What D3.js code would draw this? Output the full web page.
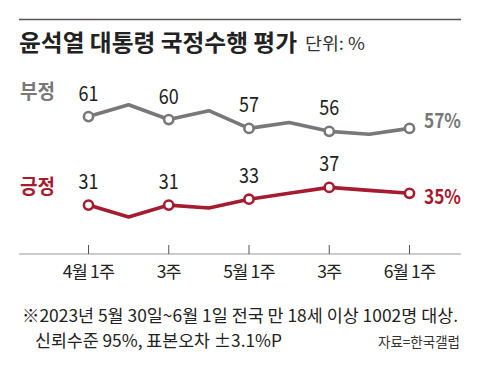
<!DOCTYPE html>
<html>
<head>
<meta charset="utf-8">
<script src="https://cdn.jsdelivr.net/npm/d3@7"></script>
<style>
  body { margin: 0; background: #fff; }
  svg text { font-family: "Noto Sans CJK KR", "Noto Sans", sans-serif; }
</style>
</head>
<body>
<div class="chart"></div>
<script>
// weekly survey, 4월 1주 ~ 6월 1주
var weeks = ["4월 1주", "4월 2주", "3주", "4월 4주", "5월 1주", "5월 2주", "3주", "5월 4주", "6월 1주"];
var tickWeeks = [0, 2, 4, 6, 8];
var negative = [61, 65, 60, 63, 57, 59, 56, 55, 57];
var positive = [31, 27, 31, 30, 33, 35, 37, 36, 35];
var labelWeeks = [0, 2, 4, 6];

var width = 480, height = 371;
var gray = "#787878", red = "#a51c30";

var svg = d3.select(".chart")
  .append("svg")
    .attr("width", width)
    .attr("height", height);

var x = d3.scaleLinear().domain([0, weeks.length - 1]).range([88.5, 409.5]);
var y = d3.scaleLinear().domain([25, 65]).range([222.8, 104.8]);

// top rule + title
svg.append("line")
  .attr("x1", 19).attr("x2", 461).attr("y1", 19.5).attr("y2", 19.5)
  .style("stroke", "#555").style("stroke-width", 1.5);

svg.append("text")
  .attr("x", 19).attr("y", 51)
  .attr("textLength", 278).attr("lengthAdjust", "spacingAndGlyphs")
  .style("font-size", "23px").style("font-weight", "bold").style("fill", "#222")
  .text("윤석열 대통령 국정수행 평가");

svg.append("text")
  .attr("x", 305).attr("y", 50)
  .attr("textLength", 60).attr("lengthAdjust", "spacingAndGlyphs")
  .style("font-size", "17px").style("fill", "#333")
  .text("단위: %");

// x axis
var axis = svg.append("g").attr("transform", "translate(0,254)");
axis.append("line")
  .attr("x1", 19).attr("x2", 461)
  .style("stroke", "#999").style("stroke-width", 1);
axis.selectAll(".tick")
  .data(tickWeeks)
  .enter().append("line")
    .attr("x1", function(d) { return x(d); })
    .attr("x2", function(d) { return x(d); })
    .attr("y1", -9).attr("y2", 0)
    .style("stroke", "#555").style("stroke-width", 1);
axis.selectAll(".lbl")
  .data(tickWeeks)
  .enter().append("text")
    .attr("x", function(d) { return x(d); })
    .attr("y", 24)
    .attr("text-anchor", "middle")
    .style("font-size", "17.5px").style("fill", "#222").style("letter-spacing", "-0.8px")
    .text(function(d) { return weeks[d]; });

var line = d3.line()
  .x(function(d, i) { return x(i); })
  .y(function(d) { return y(d); });

function drawSeries(values, color, name, nameY, endDy) {
  svg.append("path")
    .datum(values)
    .attr("d", line)
    .style("fill", "none")
    .style("stroke", color)
    .style("stroke-width", 3.6)
    .style("stroke-linejoin", "round");

  svg.selectAll(null)
    .data(tickWeeks)
    .enter().append("circle")
      .attr("cx", function(d) { return x(d); })
      .attr("cy", function(d) { return y(values[d]); })
      .attr("r", 4.6)
      .style("fill", "#fff")
      .style("stroke", color)
      .style("stroke-width", 2.6);

  svg.selectAll(null)
    .data(labelWeeks)
    .enter().append("text")
      .attr("x", function(d) { return x(d) - 10; })
      .attr("y", function(d) { return y(values[d]) - 16; })
      .attr("textLength", 20).attr("lengthAdjust", "spacingAndGlyphs")
      .style("font-size", "21px").style("fill", "#222")
      .text(function(d) { return values[d]; });

  var last = values.length - 1;
  svg.append("text")
    .attr("x", 424)
    .attr("y", y(values[last]) + endDy)
    .attr("textLength", 37).attr("lengthAdjust", "spacingAndGlyphs")
    .style("font-size", "20px").style("font-weight", "bold").style("fill", color)
    .text(values[last] + "%");

  svg.append("text")
    .attr("x", 20).attr("y", nameY)
    .attr("textLength", 35).attr("lengthAdjust", "spacingAndGlyphs")
    .style("font-size", "20px").style("font-weight", "bold").style("fill", color)
    .text(name);
}

drawSeries(negative, gray, "부정", 99, 0);
drawSeries(positive, red, "긍정", 194, 11);

// footnote
svg.append("text")
  .attr("x", 22).attr("y", 322)
  .attr("textLength", 436).attr("lengthAdjust", "spacingAndGlyphs")
  .style("font-size", "17px").style("fill", "#222")
  .text("※2023년 5월 30일~6월 1일 전국 만 18세 이상 1002명 대상.");
svg.append("text")
  .attr("x", 35).attr("y", 347)
  .attr("textLength", 247).attr("lengthAdjust", "spacingAndGlyphs")
  .style("font-size", "17px").style("fill", "#222")
  .text("신뢰수준 95%, 표본오차 ±3.1%P");
svg.append("text")
  .attr("x", 378).attr("y", 347)
  .attr("textLength", 82).attr("lengthAdjust", "spacingAndGlyphs")
  .style("font-size", "14px").style("fill", "#333")
  .text("자료=한국갤럽");
</script>
</body>
</html>
